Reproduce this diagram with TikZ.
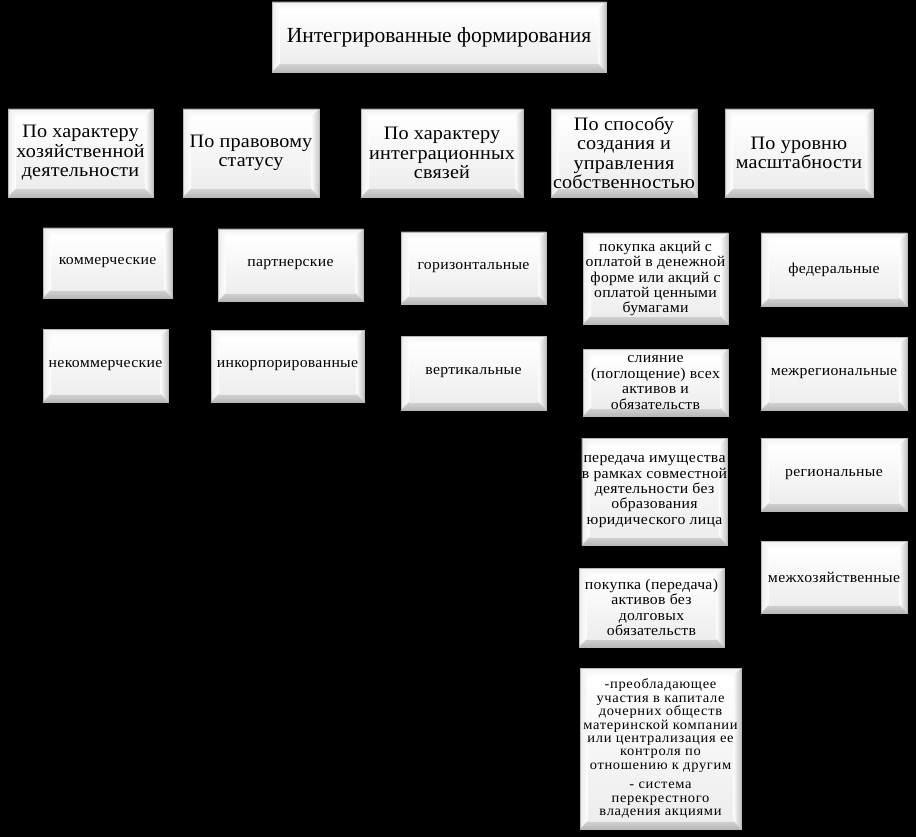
\documentclass[tikz,border=0pt]{standalone}
\usepackage{fontspec}
\setmainfont{Liberation Serif}
\newfontfamily\titlefont{Liberation Serif}
\newfontfamily\catfont[FakeStretch=1.06,LetterSpace=1]{Liberation Serif}
\newfontfamily\itemfont[FakeStretch=1.05,LetterSpace=2]{Liberation Serif}
\newfontfamily\smlfont[FakeStretch=1.05,LetterSpace=5]{Liberation Serif}
\usetikzlibrary{calc}
\tikzset{
  bev/.style={draw=gray!55, line width=0.6pt, inner sep=0pt, align=center, fill=gray!20,
    path picture={
      \coordinate (A) at (path picture bounding box.north west);
      \coordinate (B) at (path picture bounding box.north east);
      \coordinate (C) at (path picture bounding box.south east);
      \coordinate (D) at (path picture bounding box.south west);
      \coordinate (a) at ($(A)+(8pt,-8pt)$);
      \coordinate (b) at ($(B)+(-8pt,-8pt)$);
      \coordinate (c) at ($(C)+(-8pt,8pt)$);
      \coordinate (d) at ($(D)+(8pt,8pt)$);
      \fill[top color=gray!10, bottom color=white] (A)--(B)--(b)--(a)--cycle;
      \fill[left color=gray!15, right color=white] (A)--(a)--(d)--(D)--cycle;
      \fill[left color=white, right color=gray!45] (B)--(C)--(c)--(b)--cycle;
      \fill[top color=gray!35, bottom color=gray!55] (D)--(d)--(c)--(C)--cycle;
      \fill[top color=white, bottom color=gray!14] (a) rectangle (c);
    }},
  ttl/.style={font=\titlefont\fontsize{21.5}{24}\selectfont},
  cat/.style={font=\catfont\fontsize{19}{19.5}\selectfont},
  itm/.style={font=\itemfont\fontsize{15}{15.4}\selectfont},
  sml/.style={font=\smlfont\fontsize{13.8}{13.4}\selectfont}
}
\newcommand\mybox[7]{%
  \node[bev,#6,minimum width={(#4-#2)*1pt},minimum height={(#5-#3)*1pt}]
    (#1) at ({(#2+#4)/2},{(#3+#5)/2}) {#7};}
\begin{document}
\begin{tikzpicture}[x=1pt,y=-1pt]
\fill[black] (0,0) rectangle (916,837);
\useasboundingbox (0,0) rectangle (916,837);
\mybox{top}{272}{2}{606}{72}{ttl}{Интегрированные формирования}
\mybox{b1}{8}{109}{153}{197}{cat}{По характеру\\хозяйственной\\деятельности}
\mybox{b2}{183}{109}{319}{197}{cat}{По правовому\\статусу}
\mybox{b3}{361}{109}{523}{197}{cat}{По характеру\\интеграционных\\связей}
\mybox{b4}{551}{109}{697}{197}{cat}{По способу\\создания и\\управления\\собственностью}
\mybox{b5}{725}{109}{873}{197}{cat}{По уровню\\масштабности}
\mybox{c1a}{43}{228}{172}{298}{itm}{коммерческие}
\mybox{c1b}{43}{329}{168}{402}{itm}{некоммерческие}
\mybox{c2a}{218}{229}{363}{301}{itm}{партнерские}
\mybox{c2b}{211}{330}{364}{402}{itm}{инкорпорированные}
\mybox{c3a}{401}{232}{546}{304}{itm}{горизонтальные}
\mybox{c3b}{401}{336}{546}{410}{itm}{вертикальные}
\mybox{c4a}{583}{233}{728}{324}{itm}{покупка акций с\\оплатой в денежной\\форме или акций с\\оплатой ценными\\бумагами}
\mybox{c4b}{583}{349}{728}{416}{itm}{слияние\\(поглощение) всех\\активов и\\обязательств}
\mybox{c4c}{582}{438}{727}{545}{itm}{передача имущества\\в рамках совместной\\деятельности без\\образования\\юридического лица}
\mybox{c4d}{579}{568}{724}{647}{itm}{покупка (передача)\\активов без\\долговых\\обязательств}
\mybox{c4e}{580}{668}{741}{829}{sml}{-преобладающее\\участия в капитале\\дочерних обществ\\материнской компании\\или централизация ее\\контроля по\\отношению к другим\\[6pt]- система\\перекрестного\\владения акциями}
\mybox{c5a}{761}{233}{907}{306}{itm}{федеральные}
\mybox{c5b}{761}{337}{907}{410}{itm}{межрегиональные}
\mybox{c5c}{761}{438}{907}{511}{itm}{региональные}
\mybox{c5d}{761}{541}{907}{613}{itm}{межхозяйственные}
\end{tikzpicture}
\end{document}
